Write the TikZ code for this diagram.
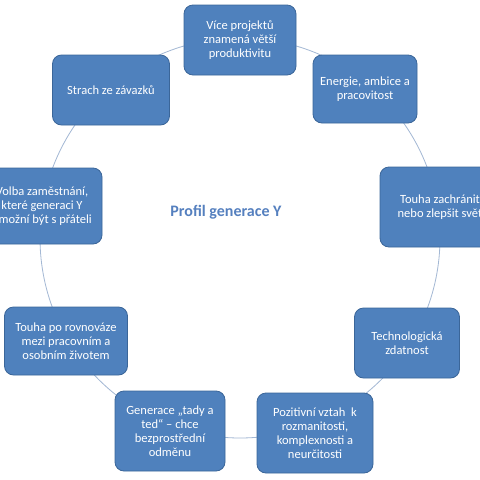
\documentclass[tikz,border=0pt]{standalone}
\usepackage{fontspec}
\setmainfont{Carlito}
\definecolor{boxblue}{HTML}{4F81BD}
\definecolor{boxedge}{HTML}{3B6699}
\definecolor{ringcol}{HTML}{A3B8D4}
\definecolor{titlecol}{HTML}{5580BF}
\begin{document}
\begin{tikzpicture}[x=1pt,y=-1pt,
  pbox/.style={rounded corners=9pt, fill=boxblue, draw=boxedge, line width=0.8pt,
    text=white, align=center, inner sep=2pt,
    font=\fontsize{12.5}{14}\selectfont},
  ring/.style={draw=ringcol, line width=0.8pt}]
\useasboundingbox (0,0) rectangle (480,480);
\clip (0,0) rectangle (480,480);
\fill[white] (0,0) rectangle (480,480);
\coordinate (ctr) at (240,238);
\draw[ring] (ctr) circle[radius=200];
\node[pbox, minimum width=112pt, minimum height=70pt] (b1) at (240,40) {Více projektů\\znamená větší\\produktivitu};
\node[pbox, minimum width=104pt, minimum height=68pt] (b2) at (365,89) {Energie, ambice a\\pracovitost};
\node[pbox, minimum width=120pt, minimum height=80pt] (b3) at (440,207) {Touha zachránit\\nebo zlepšit svět};
\node[pbox, minimum width=105pt, minimum height=70pt] (b4) at (407,343) {Technologická\\zdatnost};
\node[pbox, minimum width=116pt, minimum height=80pt] (b5) at (315,433) {Pozitivní vztah\ \ k\\rozmanitosti,\\komplexnosti a\\neurčitosti};
\node[pbox, minimum width=110pt, minimum height=80pt] (b6) at (170,431) {Generace „tady a\\ted“ – chce\\bezprostřední\\odměnu};
\node[pbox, minimum width=123pt, minimum height=68pt] (b7) at (66,341) {Touha po rovnováze\\mezi pracovním a\\osobním životem};
\node[pbox, minimum width=120pt, minimum height=76pt] (b8) at (42,206) {Volba zaměstnání,\\které generaci Y\\umožní být s přáteli};
\node[pbox, minimum width=117pt, minimum height=70pt] (b9) at (111,90) {Strach ze závazků};
\node[text=titlecol, font=\fontsize{16}{19}\selectfont\bfseries] (title) at (226,212) {Profil generace Y};
\end{tikzpicture}
\end{document}
